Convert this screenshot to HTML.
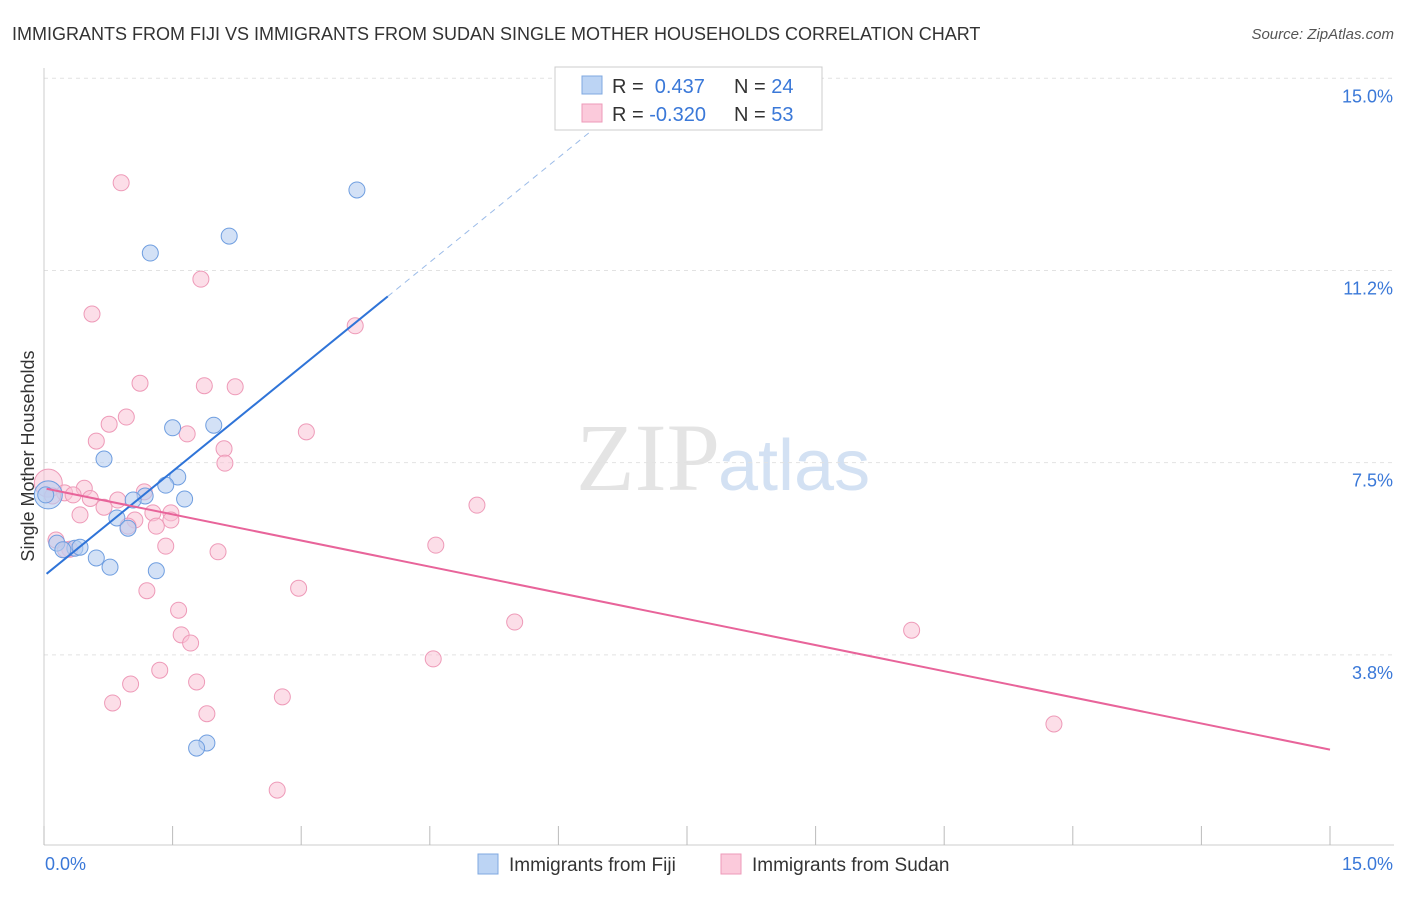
<!DOCTYPE html>
<html><head><meta charset="utf-8"><style>
body{margin:0;background:#fff;font-family:"Liberation Sans",sans-serif;}
</style></head><body>
<svg id="c" width="1406" height="892" xmlns="http://www.w3.org/2000/svg">
<text x="12" y="40" font-size="18" fill="#333">IMMIGRANTS FROM FIJI VS IMMIGRANTS FROM SUDAN SINGLE MOTHER HOUSEHOLDS CORRELATION CHART</text>
<text x="1394" y="39" font-size="15" fill="#555" font-style="italic" text-anchor="end">Source: ZipAtlas.com</text>
<text x="720" y="490" font-size="96" fill="#e4e4e4" text-anchor="end" font-family="Liberation Serif">ZIP</text>
<text x="718" y="490" font-size="72" fill="#d3e1f3">atlas</text>
<text transform="translate(34,456) rotate(-90)" font-size="18" fill="#333" text-anchor="middle">Single Mother Households</text>
<g id="grid"></g><g id="marks"></g>
<g>
<rect x="555" y="67" width="267" height="63" fill="#fff" stroke="#ccc"/>
<rect x="582" y="76" width="20" height="18" fill="#bcd4f4" stroke="#7fa8e0"/>
<rect x="582" y="104" width="20" height="18" fill="#fbcadb" stroke="#ee9ab8"/>
<text x="612" y="93" font-size="20" fill="#333">R = <tspan fill="#3a78d8">&#160;0.437</tspan><tspan x="734">N = </tspan><tspan fill="#3a78d8">24</tspan></text>
<text x="612" y="121" font-size="20" fill="#333">R = <tspan fill="#3a78d8">-0.320</tspan><tspan x="734">N = </tspan><tspan fill="#3a78d8">53</tspan></text>
</g>
<g>
<rect x="478" y="854" width="20" height="20" fill="#bcd4f4" stroke="#7fa8e0"/>
<text x="509" y="871" font-size="19" fill="#333">Immigrants from Fiji</text>
<rect x="721" y="854" width="20" height="20" fill="#fbcadb" stroke="#ee9ab8"/>
<text x="752" y="871" font-size="19" fill="#333">Immigrants from Sudan</text>
</g>
</svg>
<script>
const fijiX=[3.65,2.16,1.24,1.98,1.50,0.70,1.56,1.42,1.64,1.18,1.04,0.85,0.98,0.15,0.36,0.22,0.42,0.61,0.77,1.31,1.90,1.78,0.05,0.02];
const fijiY=[12.82,11.92,11.59,8.23,8.18,7.57,7.22,7.06,6.79,6.85,6.77,6.42,6.22,5.93,5.83,5.80,5.85,5.64,5.46,5.39,2.03,1.93,6.87,6.87];
const sudanX=[0.90,1.83,0.56,3.63,1.12,1.87,2.23,0.96,0.76,3.06,0.61,1.67,2.10,2.11,0.05,0.47,0.24,1.17,0.34,0.86,0.70,5.05,1.27,1.48,0.42,1.06,1.48,1.31,0.98,0.14,1.42,4.57,2.03,0.30,2.97,1.20,1.57,1.60,1.71,5.49,10.12,4.54,1.35,1.01,1.78,2.78,0.80,1.90,11.78,2.72,0.25,0.10,0.54];
const sudanY=[12.96,11.08,10.40,10.17,9.05,9.00,8.98,8.39,8.25,8.10,7.92,8.06,7.77,7.49,7.10,7.00,6.91,6.93,6.87,6.77,6.63,6.67,6.52,6.52,6.48,6.38,6.38,6.26,6.26,5.99,5.87,5.89,5.76,5.81,5.05,5.00,4.62,4.14,3.98,4.39,4.23,3.67,3.45,3.18,3.22,2.93,2.81,2.60,2.40,1.11,5.80,6.85,6.80];
const fijiTrend=[5.29,1.36]; // intercept, slope
const sudanTrend=[7.0,-0.34];
const yTicks=[3.75,7.5,11.25,15];
const yTickLabels=["3.8%","7.5%","11.2%","15.0%"];
const xTicks=[0,1.5,3,4.5,6,7.5,9,10.5,12,13.5,15];
const NS="http://www.w3.org/2000/svg";
const X=v=>44+v/15*1286, Y=v=>847-v*51.25;
function mk(tag,attrs,parent){const e=document.createElementNS(NS,tag);for(const k in attrs)e.setAttribute(k,attrs[k]);parent.appendChild(e);return e;}
const grid=document.getElementById('grid'),marks=document.getElementById('marks'),svg=document.getElementById('c');
yTicks.forEach((t,i)=>{
 const l=mk('line',{x1:44,x2:1394,y1:Y(t),y2:Y(t),stroke:'#e2e2e2','stroke-dasharray':'4,4'},grid);
 
 
 const tx=mk('text',{x:1393,y:Y(t)+24,'font-size':18,fill:'#3a78d8','text-anchor':'end'},grid);
 tx.textContent=yTickLabels[i];
 
 
});
const ax=mk('line',{x1:44,x2:1394,y1:845,y2:845,stroke:'#ccc'},grid);


const yax=mk('line',{x1:44,x2:44,y1:68,y2:845,stroke:'#ccc'},grid);


xTicks.forEach(t=>{
 const l=mk('line',{x1:X(t),x2:X(t),y1:826,y2:845,stroke:'#bbb'},grid);
 
 
});
const xl0=mk('text',{x:45,y:870,'font-size':18,fill:'#3a78d8'},grid);xl0.textContent="0.0%";


const xl1=mk('text',{x:1393,y:870,'font-size':18,fill:'#3a78d8','text-anchor':'end'},grid);xl1.textContent="15.0%";


sudanX.forEach((x,i)=>{
 const big=i===14;
 const c=mk('circle',{cx:X(x),cy:Y(sudanY[i]),r:big?14:8,fill:'#f9c3d6','fill-opacity':0.55,stroke:'#ee9ab8','stroke-width':1},marks);
 
 
});
fijiX.forEach((x,i)=>{
 const big=i===22;
 const c=mk('circle',{cx:X(x),cy:Y(fijiY[i]),r:big?14:8,fill:'#b5cdf0','fill-opacity':0.6,stroke:'#6f9ee0','stroke-width':1},marks);
 
 
});
const fx0=0.03,fx1=4.01,fx2=(15-fijiTrend[0])/fijiTrend[1];
const f1=mk('line',{x1:X(fx0),y1:Y(fijiTrend[0]+fijiTrend[1]*fx0),x2:X(fx1),y2:Y(fijiTrend[0]+fijiTrend[1]*fx1),stroke:'#2f74d8','stroke-width':2},marks);


const f2=mk('line',{x1:X(fx1),y1:Y(fijiTrend[0]+fijiTrend[1]*fx1),x2:X(fx2),y2:Y(15),stroke:'#9bbbe8','stroke-width':1,'stroke-dasharray':'6,5'},marks);


const s1=mk('line',{x1:X(0.03),y1:Y(sudanTrend[0]+sudanTrend[1]*0.03),x2:X(15),y2:Y(sudanTrend[0]+sudanTrend[1]*15),stroke:'#e8649a','stroke-width':2},marks);


</script>
</body></html>
